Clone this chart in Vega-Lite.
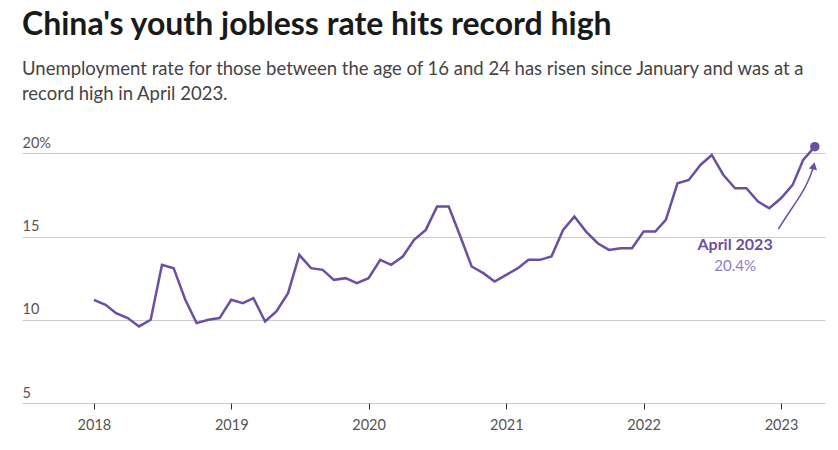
{
  "$schema": "https://vega.github.io/schema/vega-lite/v6.json",
  "width": 803,
  "height": 258,
  "autosize": {"type": "none"},
  "padding": {"left": 22, "top": 145, "right": 13, "bottom": 47},
  "background": "white",
  "title": {
    "text": "China's youth jobless rate hits record high",
    "subtitle": ["Unemployment rate for those between the age of 16 and 24 has risen since January and was at a", "record high in April 2023."],
    "anchor": "start",
    "frame": "group",
    "font": "Lato",
    "fontSize": 32,
    "fontWeight": "bold",
    "color": "#1a1a1a",
    "subtitleFont": "Lato",
    "subtitleFontSize": 18.5,
    "subtitleColor": "#444444",
    "subtitleLineHeight": 25,
    "subtitlePadding": 18,
    "offset": 31
  },
  "config": {
    "view": {"stroke": null},
    "axis": {"labelFont": "Lato", "labelFontSize": 14.5, "labelColor": "#555555"}
  },
  "datasets": {
    "main": [
      {"date": "2018-01-01", "value": 11.2},
      {"date": "2018-02-01", "value": 10.9},
      {"date": "2018-03-01", "value": 10.4},
      {"date": "2018-04-01", "value": 10.1},
      {"date": "2018-05-01", "value": 9.6},
      {"date": "2018-06-01", "value": 10.0},
      {"date": "2018-07-01", "value": 13.3},
      {"date": "2018-08-01", "value": 13.1},
      {"date": "2018-09-01", "value": 11.2},
      {"date": "2018-10-01", "value": 9.8},
      {"date": "2018-11-01", "value": 10.0},
      {"date": "2018-12-01", "value": 10.1},
      {"date": "2019-01-01", "value": 11.2},
      {"date": "2019-02-01", "value": 11.0},
      {"date": "2019-03-01", "value": 11.3},
      {"date": "2019-04-01", "value": 9.9},
      {"date": "2019-05-01", "value": 10.5},
      {"date": "2019-06-01", "value": 11.6},
      {"date": "2019-07-01", "value": 13.9},
      {"date": "2019-08-01", "value": 13.1},
      {"date": "2019-09-01", "value": 13.0},
      {"date": "2019-10-01", "value": 12.4},
      {"date": "2019-11-01", "value": 12.5},
      {"date": "2019-12-01", "value": 12.2},
      {"date": "2020-01-01", "value": 12.5},
      {"date": "2020-02-01", "value": 13.6},
      {"date": "2020-03-01", "value": 13.3},
      {"date": "2020-04-01", "value": 13.8},
      {"date": "2020-05-01", "value": 14.8},
      {"date": "2020-06-01", "value": 15.4},
      {"date": "2020-07-01", "value": 16.8},
      {"date": "2020-08-01", "value": 16.8},
      {"date": "2020-09-01", "value": 15.0},
      {"date": "2020-10-01", "value": 13.2},
      {"date": "2020-11-01", "value": 12.8},
      {"date": "2020-12-01", "value": 12.3},
      {"date": "2021-01-01", "value": 12.7},
      {"date": "2021-02-01", "value": 13.1},
      {"date": "2021-03-01", "value": 13.6},
      {"date": "2021-04-01", "value": 13.6},
      {"date": "2021-05-01", "value": 13.8},
      {"date": "2021-06-01", "value": 15.4},
      {"date": "2021-07-01", "value": 16.2},
      {"date": "2021-08-01", "value": 15.3},
      {"date": "2021-09-01", "value": 14.6},
      {"date": "2021-10-01", "value": 14.2},
      {"date": "2021-11-01", "value": 14.3},
      {"date": "2021-12-01", "value": 14.3},
      {"date": "2022-01-01", "value": 15.3},
      {"date": "2022-02-01", "value": 15.3},
      {"date": "2022-03-01", "value": 16.0},
      {"date": "2022-04-01", "value": 18.2},
      {"date": "2022-05-01", "value": 18.4},
      {"date": "2022-06-01", "value": 19.3},
      {"date": "2022-07-01", "value": 19.9},
      {"date": "2022-08-01", "value": 18.7},
      {"date": "2022-09-01", "value": 17.9},
      {"date": "2022-10-01", "value": 17.9},
      {"date": "2022-11-01", "value": 17.1},
      {"date": "2022-12-01", "value": 16.7},
      {"date": "2023-01-01", "value": 17.3},
      {"date": "2023-02-01", "value": 18.1},
      {"date": "2023-03-01", "value": 19.6},
      {"date": "2023-04-01", "value": 20.4}
    ],
    "arrow": [
      {"date": "2022-12-25", "value": 15.44},
      {"date": "2023-01-16", "value": 16.24},
      {"date": "2023-02-11", "value": 17.09},
      {"date": "2023-03-03", "value": 17.8},
      {"date": "2023-03-18", "value": 18.5},
      {"date": "2023-03-27", "value": 19.1}
    ],
    "arrowhead": [
      {"date": "2023-03-29", "value": 19.25}
    ],
    "note": [
      {"date": "2022-09-01", "value": 14.2, "label": "April 2023", "sub": "20.4%", "subvalue": 12.94}
    ]
  },
  "encoding": {
    "x": {
      "field": "date",
      "type": "temporal",
      "scale": {"type": "utc", "domain": ["2017-06-24", "2023-04-28"]},
      "axis": {
        "title": null,
        "format": "%Y",
        "formatType": "utc",
        "values": ["2018-01-01", "2019-01-01", "2020-01-01", "2021-01-01", "2022-01-01", "2023-01-01"],
        "grid": false,
        "domain": false,
        "ticks": true,
        "tickColor": "#333333",
        "tickSize": 6,
        "labelPadding": 9
      }
    },
    "y": {
      "field": "value",
      "type": "quantitative",
      "scale": {"domain": [5, 20.5], "nice": false, "zero": false},
      "axis": {
        "title": null,
        "values": [5, 10, 15, 20],
        "labelExpr": "datum.value == 20 ? '20%' : datum.label",
        "grid": true,
        "gridColor": "#cccccc",
        "gridWidth": 1,
        "domain": false,
        "ticks": false,
        "labelAlign": "left",
        "labelBaseline": "bottom",
        "labelPadding": 0,
        "labelOffset": -3
      }
    }
  },
  "layer": [
    {
      "data": {"name": "main"},
      "mark": {"type": "line", "color": "#6a4fa3", "strokeWidth": 2.5, "clip": false}
    },
    {
      "data": {"name": "main"},
      "transform": [{"filter": "datum.value == 20.4"}],
      "mark": {"type": "point", "filled": true, "color": "#6a4fa3", "size": 90, "opacity": 1}
    },
    {
      "data": {"name": "arrow"},
      "mark": {"type": "line", "color": "#6a4fa3", "strokeWidth": 1.5, "interpolate": "basis"}
    },
    {
      "data": {"name": "arrowhead"},
      "mark": {"type": "point", "shape": "triangle-up", "filled": true, "color": "#6a4fa3", "size": 70, "angle": 12, "opacity": 1}
    },
    {
      "data": {"name": "note"},
      "mark": {"type": "text", "font": "Lato", "fontSize": 16, "fontWeight": "bold", "color": "#6a4fa3", "align": "center", "baseline": "alphabetic"},
      "encoding": {"text": {"field": "label"}}
    },
    {
      "data": {"name": "note"},
      "mark": {"type": "text", "font": "Lato", "fontSize": 15, "color": "#8f7cc4", "align": "center", "baseline": "alphabetic"},
      "encoding": {"text": {"field": "sub"}, "y": {"field": "subvalue", "type": "quantitative"}}
    }
  ]
}
